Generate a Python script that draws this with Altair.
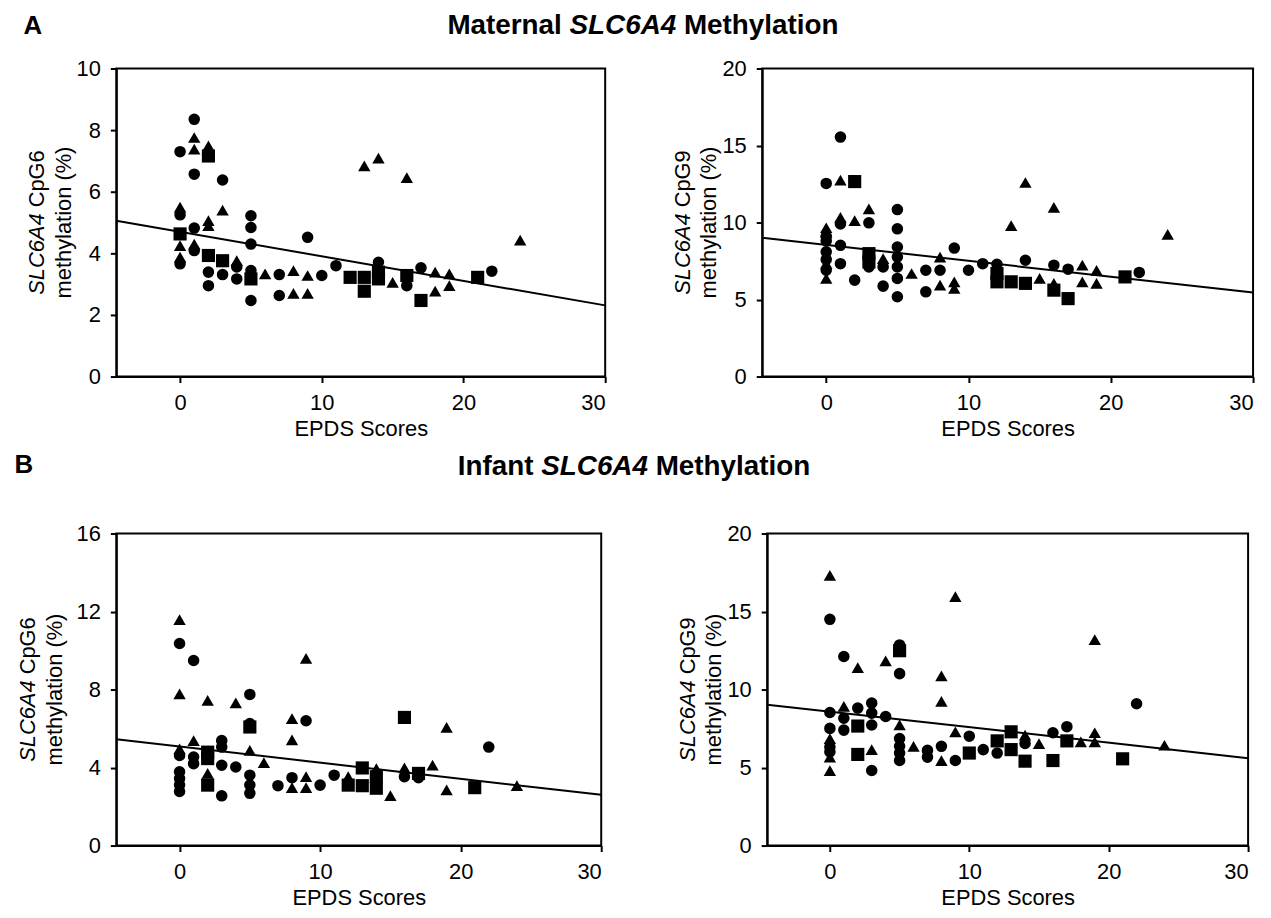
import altair as alt
import pandas as pd

FONT = "Liberation Sans"
X_DOMAIN = [-4.5, 30]
X_TICKS = [0, 10, 20, 30]
LINE_X = [-4.5, 30]

# ---------- A, left: maternal CpG6 ----------
a6_x = [0, 0, 0, 0, 0, 0, 0,
        1, 1, 1, 1, 1, 1, 1,
        2, 2, 2, 2, 2, 2, 2,
        3, 3, 3, 3,
        4, 4, 4,
        5, 5, 5, 5, 5, 5,
        6, 7, 7, 8, 8, 9, 9, 9, 10, 11, 12,
        13, 13, 13, 14, 14, 14, 14, 15, 16, 16, 16,
        17, 17, 18, 18, 19, 19, 21, 22, 24]
a6_y = [7.3, 5.5, 5.25, 4.63, 4.25, 3.88, 3.66,
        8.35, 7.76, 7.38, 6.57, 4.82, 4.3, 4.09,
        7.49, 7.16, 5.06, 4.9, 3.93, 3.39, 2.95,
        6.38, 5.4, 3.76, 3.31,
        3.76, 3.56, 3.17,
        5.22, 4.84, 4.3, 3.44, 3.17, 2.47,
        3.33, 3.31, 2.63, 3.44, 2.7, 4.52, 3.28, 2.7, 3.28, 3.6, 3.22,
        6.84, 3.22, 2.77, 7.09, 3.71, 3.39, 3.17, 3.06, 6.46, 3.28, 2.95,
        3.53, 2.47, 3.39, 2.77, 3.33, 2.95, 3.22, 3.42, 4.43]
a6_g = ["c", "t", "c", "s", "t", "t", "c",
        "c", "t", "t", "c", "c", "t", "c",
        "t", "s", "t", "t", "s", "c", "c",
        "c", "t", "s", "c",
        "t", "c", "c",
        "c", "c", "c", "c", "s", "c",
        "t", "c", "c", "t", "t", "c", "t", "t", "c", "c", "s",
        "t", "s", "s", "t", "c", "s", "s", "t", "t", "s", "c",
        "c", "s", "t", "t", "t", "t", "s", "c", "t"]
a6_line = [5.06, 2.31]

# ---------- A, right: maternal CpG9 ----------
a9_x = [0, 0, 0, 0, 0, 0, 0, 0, 0, 0,
        1, 1, 1, 1, 1, 1,
        2, 2, 2,
        3, 3, 3, 3, 3,
        4, 4, 4,
        5, 5, 5, 5, 5, 5, 5,
        6, 7, 7, 8, 8, 8, 9, 9, 9, 10, 11,
        12, 12, 12, 13, 13, 14, 14, 14, 15,
        16, 16, 16, 16, 17, 17, 18, 18, 19, 19, 21, 22, 24]
a9_y = [12.54, 9.66, 9.4, 9.1, 8.8, 8.1, 7.6, 7.35, 6.9, 6.37,
        15.55, 12.75, 10.34, 9.91, 8.52, 7.33,
        12.66, 10.13, 6.26,
        10.88, 9.98, 7.98, 7.44, 7.12,
        7.66, 7.12, 5.87,
        10.84, 9.59, 8.41, 7.76, 7.12, 6.37, 5.18,
        6.69, 6.9, 5.5, 7.76, 6.9, 5.94, 8.34, 6.15, 5.72, 6.9, 7.33,
        7.29, 6.69, 6.15, 9.8, 6.15, 12.6, 7.55, 6.05, 6.37,
        10.99, 7.23, 6.05, 5.61, 6.97, 5.06, 7.23, 6.15, 6.9, 6.05, 6.47, 6.76, 9.23]
a9_g = ["c", "t", "t", "c", "c", "c", "c", "t", "c", "t",
        "c", "t", "t", "c", "c", "c",
        "s", "t", "c",
        "t", "c", "s", "s", "c",
        "t", "c", "c",
        "c", "c", "c", "c", "c", "c", "c",
        "t", "c", "c", "t", "c", "t", "c", "t", "t", "c", "c",
        "c", "s", "s", "t", "s", "t", "c", "s", "t",
        "t", "c", "t", "s", "c", "s", "t", "t", "t", "t", "s", "c", "t"]
a9_line = [9.01, 5.45]

# ---------- B, left: infant CpG6 ----------
b6_x = [0, 0, 0, 0, 0, 0, 0, 0, 0,
        1, 1, 1, 1,
        2, 2, 2, 2, 2,
        3, 3, 3, 3,
        4, 4,
        5, 5, 5, 5, 5, 5, 5,
        6, 7, 8, 8, 8, 8, 9, 9, 9, 9, 10, 11,
        12, 12, 13, 13, 14, 14, 14, 15, 16, 16, 16,
        17, 17, 18, 19, 19, 21, 22, 24]
b6_y = [11.59, 10.36, 7.78, 4.96, 4.62, 3.78, 3.44, 3.1, 2.77,
        9.49, 5.38, 4.54, 4.2,
        7.44, 4.79, 4.46, 3.7, 3.1,
        5.38, 5.05, 4.12, 2.55,
        7.32, 4.03,
        7.75, 6.26, 6.08, 4.88, 3.61, 3.1, 2.68,
        4.25, 3.07, 6.51, 5.42, 3.48, 2.97, 9.6, 6.4, 3.53, 2.97, 3.1, 3.61,
        3.53, 3.1, 3.98, 3.07, 3.95, 3.53, 2.94, 2.56, 6.57, 3.98, 3.53,
        3.7, 3.48, 4.12, 6.06, 2.85, 2.97, 5.05, 3.07]
b6_g = ["t", "c", "t", "t", "c", "c", "c", "c", "c",
        "c", "t", "c", "c",
        "t", "s", "s", "t", "s",
        "c", "c", "c", "c",
        "t", "c",
        "c", "c", "s", "t", "c", "c", "c",
        "t", "c", "t", "t", "c", "t", "t", "c", "t", "t", "c", "c",
        "t", "s", "s", "s", "t", "s", "s", "t", "s", "t", "c",
        "s", "c", "t", "t", "t", "s", "c", "t"]
b6_line = [5.45, 2.6]

# ---------- B, right: infant CpG9 ----------
b9_x = [0, 0, 0, 0, 0, 0, 0, 0, 0,
        1, 1, 1, 1,
        2, 2, 2, 2,
        3, 3, 3, 3, 3,
        4, 4,
        5, 5, 5, 5, 5, 5, 5, 5,
        6, 7, 7, 8, 8, 8, 8, 9, 9, 9,
        10, 10, 11, 12, 12, 13, 13, 14, 14, 14, 15,
        16, 16, 17, 17, 18, 19, 19, 19, 21, 22, 24]
b9_y = [17.32, 14.5, 8.53, 7.51, 6.86, 6.32, 6.0, 5.67, 4.81,
        12.12, 8.92, 8.16, 7.4,
        11.4, 8.81, 7.66, 5.84,
        9.13, 8.49, 7.73, 6.15, 4.81,
        11.84, 8.27,
        12.86, 12.49, 11.02, 7.73, 6.86, 6.36, 5.93, 5.45,
        6.36, 6.1, 5.67, 10.87, 9.24, 6.36, 5.45, 15.95, 7.29, 5.45,
        7.01, 5.93, 6.15, 6.71, 5.93, 7.29, 6.15, 7.08, 6.54, 5.41, 6.54,
        7.23, 5.45, 7.62, 6.71, 6.65, 13.2, 7.23, 6.65, 5.56, 9.09, 6.43]
b9_g = ["t", "c", "c", "c", "t", "c", "c", "t", "t",
        "c", "t", "c", "c",
        "t", "c", "s", "s",
        "c", "c", "c", "t", "c",
        "t", "c",
        "c", "s", "c", "t", "c", "c", "c", "c",
        "t", "c", "c", "t", "t", "c", "t", "t", "t", "c",
        "c", "s", "c", "s", "c", "s", "s", "t", "c", "s", "t",
        "c", "s", "c", "s", "t", "t", "t", "t", "s", "c", "t"]
b9_line = [9.03, 5.6]


def text_layer(s, x, y, size=22, weight="normal", style="normal",
               align="center", angle=0, baseline="middle"):
    kw = dict(font=FONT, fontSize=size, fontWeight=weight, fontStyle=style,
              align=align, baseline=baseline, color="black")
    if angle:
        kw["angle"] = angle
    return alt.Chart(pd.DataFrame({"t": [s]})).mark_text(**kw).encode(
        text="t:N", x=alt.value(x), y=alt.value(y))


def ytitle_layers(cpg, h, x1, x2, size=22):
    w1 = 3.724 * size          # italic "SLC6A4"
    sp = 0.278 * size
    w2 = (0.722 + 0.556 + 0.778 + 0.556) * size + sp
    pivot = h / 2 - (w1 - w2) / 2
    return [
        text_layer("SLC6A4", x1, pivot, size=size, style="italic",
                   align="right", angle=270),
        text_layer(cpg, x1, pivot - sp, size=size, align="left", angle=270),
        text_layer("methylation (%)", x2, h / 2, size=size, angle=270),
    ]


def title_layers(first, first_em, center, y, size=28):
    slc = 3.834 * size
    sp = 0.278 * size
    total = first_em * size + sp + slc + sp + 5.556 * size
    left = center - total / 2
    xc = left + first_em * size + sp + slc / 2
    return [
        text_layer(first, xc - slc / 2 - sp, y, size=size, weight="bold", align="right"),
        text_layer("SLC6A4", xc, y, size=size, weight="bold", style="italic"),
        text_layer("Methylation", xc + slc / 2 + sp, y, size=size, weight="bold",
                   align="left"),
    ]


def panel(xs, ys, gs, line_y, ymax, ystep, w, h, cpg, x1, x2, extra):
    pts = pd.DataFrame({"epds": xs, "meth": ys, "grp": gs})
    ln = pd.DataFrame({"epds": LINE_X, "meth": line_y})
    xsc = alt.Scale(domain=X_DOMAIN, nice=False, zero=False)
    ysc = alt.Scale(domain=[0, ymax], nice=False)
    xax = alt.Axis(values=X_TICKS, title="EPDS Scores")
    yax = alt.Axis(values=list(range(0, ymax + 1, ystep)), title=None)
    ex = alt.X("epds:Q", scale=xsc, axis=xax)
    ey = alt.Y("meth:Q", scale=ysc, axis=yax)
    points = alt.Chart(pts).mark_point(filled=True, color="black", opacity=1).encode(
        x=ex, y=ey,
        shape=alt.Shape("grp:N", scale=alt.Scale(domain=["c", "t", "s"],
                        range=["circle", "triangle-up", "square"]), legend=None),
        size=alt.Size("grp:N", scale=alt.Scale(domain=["c", "t", "s"],
                      range=[135, 175, 125]), legend=None),
    )
    line = alt.Chart(ln).mark_line(color="black", strokeWidth=2).encode(x=ex, y=ey)
    layers = [points, line] + ytitle_layers(cpg, h, x1, x2) + extra
    return alt.layer(*layers).properties(
        width=w, height=h,
        view=alt.ViewBackground(stroke="black", strokeWidth=2),
    )


H_A = 310
H_B = 314
PAGE_CENTER = 636

# panel A left plot origin ~ (106, 65); B left plot origin ~ (115, 532)
tl = panel(a6_x, a6_y, a6_g, a6_line, 10, 2, 492, H_A, "CpG6", -80, -53,
           [text_layer("A", -84, -43, size=26, weight="bold")]
           + title_layers("Maternal", 4.112, PAGE_CENTER - 106, -43))
tr = panel(a9_x, a9_y, a9_g, a9_line, 20, 5, 494, H_A, "CpG9", -80, -53, [])
bl = panel(b6_x, b6_y, b6_g, b6_line, 16, 4, 488, H_B, "CpG6", -89, -62,
           [text_layer("B", -93, -69, size=26, weight="bold")]
           + title_layers("Infant", 2.722, PAGE_CENTER - 115, -67))
br = panel(b9_x, b9_y, b9_g, b9_line, 20, 5, 484, H_B, "CpG9", -80, -53, [])

row_a = alt.hconcat(tl, tr, spacing=158, bounds="flush")
row_b = alt.hconcat(bl, br, spacing=167, bounds="flush")

chart = alt.vconcat(row_a, row_b, spacing=11).properties(
    padding={"left": 5, "top": 0, "right": 5, "bottom": 5}
).configure_view(
    strokeWidth=0
).configure_axis(
    labelFont=FONT, labelFontSize=22, labelColor="black",
    titleFont=FONT, titleFontSize=22, titleFontWeight="normal", titleColor="black",
    domainColor="black", domainWidth=2, tickColor="black", tickWidth=2,
    tickSize=6, labelPadding=10, titlePadding=5, grid=False,
)

chart.save("out.html", embed_options={"renderer": "svg", "actions": False})
